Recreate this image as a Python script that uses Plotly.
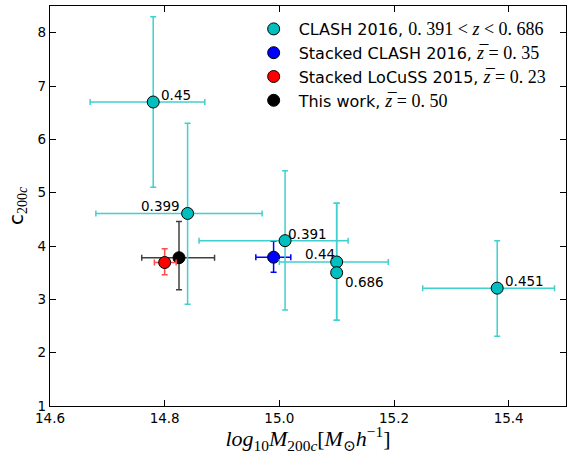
import plotly.graph_objects as go

# CLASH 2016 individual clusters
clash_x = [14.78, 14.84, 15.01, 15.10, 15.10, 15.38]
clash_y = [6.70, 4.61, 4.10, 3.70, 3.50, 3.21]
clash_xlo = [14.67, 14.68, 14.86, 15.00, 15.10, 15.25]
clash_xhi = [14.87, 14.97, 15.12, 15.19, 15.10, 15.48]
clash_ylo = [5.10, 2.91, 2.80, 2.61, 2.61, 2.31]
clash_yhi = [8.30, 6.30, 5.41, 4.80, 4.80, 4.10]
clash_z = ["0.45", "0.399", "0.391", "0.44", "0.686", "0.451"]
label_x = [14.79, 14.755, 15.012, 15.041, 15.111, 15.39]
label_y = [6.70, 4.61, 4.10, 3.72, 3.20, 3.22]

# Stacked CLASH 2016
sclash_x, sclash_y = [14.99], [3.79]
sclash_xlo, sclash_xhi = [14.959], [15.02]
sclash_ylo, sclash_yhi = [3.51], [4.09]

# Stacked LoCuSS 2015
loc_x, loc_y = [14.80], [3.69]
loc_xlo, loc_xhi = [14.782], [14.82]
loc_ylo, loc_yhi = [3.46], [3.95]

# This work
tw_x, tw_y = [14.825], [3.78]
tw_xlo, tw_xhi = [14.76], [14.887]
tw_ylo, tw_yhi = [3.18], [4.46]

x_ticks = [14.6, 14.8, 15.0, 15.2, 15.4]
y_ticks = [1, 2, 3, 4, 5, 6, 7, 8]

SERIF = "'Liberation Serif', 'DejaVu Serif', serif"


def m(s, size=18):
    return f"<span style=\"font-family:{SERIF};font-size:{size}px\">{s}</span>"


def errs(v, lo, hi):
    return ([h - a for a, h in zip(v, hi)], [a - l for a, l in zip(v, lo)])


def add(x, y, xlo, xhi, ylo, yhi, fill, ecol, name, rank):
    ep, em = errs(x, xlo, xhi)
    yp, ym = errs(y, ylo, yhi)
    fig.add_trace(go.Scatter(
        x=x, y=y, mode="markers", name=name, legendrank=rank,
        marker=dict(size=12, color=fill, line=dict(color="black", width=1)),
        error_x=dict(type="data", symmetric=False, array=ep, arrayminus=em,
                     color=ecol, thickness=1.5, width=3),
        error_y=dict(type="data", symmetric=False, array=yp, arrayminus=ym,
                     color=ecol, thickness=1.5, width=3),
    ))


fig = go.Figure()
zbar = "<i>z</i>\u0305"
add(tw_x, tw_y, tw_xlo, tw_xhi, tw_ylo, tw_yhi, "#000000", "#404040",
    "This work, " + m(zbar + " = 0. 50"), 4)
add(loc_x, loc_y, loc_xlo, loc_xhi, loc_ylo, loc_yhi, "#ff0000", "#ff4d4d",
    "Stacked LoCuSS 2015, " + m(zbar + " = 0. 23"), 3)
add(sclash_x, sclash_y, sclash_xlo, sclash_xhi, sclash_ylo, sclash_yhi, "#0000ff", "#0000ff",
    "Stacked CLASH 2016, " + m(zbar + " = 0. 35"), 2)
add(clash_x, clash_y, clash_xlo, clash_xhi, clash_ylo, clash_yhi, "#00bfbf", "#40d0d0",
    "CLASH 2016, " + m("0. 391 &lt; <i>z</i> &lt; 0. 686"), 1)

for lx, ly, t in zip(label_x, label_y, clash_z):
    fig.add_annotation(x=lx, y=ly, text=t, showarrow=False, xanchor="left",
                       yanchor="bottom", yshift=-3,
                       font=dict(family="DejaVu Sans", size=13.5, color="black"))

axis_common = dict(
    showgrid=False, zeroline=False, ticks="inside", ticklen=6, tickwidth=1,
    tickcolor="black", showline=True, linecolor="black", linewidth=1.2,
    mirror="allticks", tickfont=dict(family="DejaVu Sans", size=13.5, color="black"),
)

fig.update_layout(
    width=572, height=454,
    margin=dict(l=50, r=6, t=6, b=48),
    paper_bgcolor="white", plot_bgcolor="white",
    font=dict(family="DejaVu Sans", color="black"),
    xaxis=dict(range=[14.6, 15.5], tickvals=x_ticks,
               ticktext=[f"{v:.1f}" for v in x_ticks],
               title=dict(text="<i>log</i><sub>10</sub><i>M</i><sub>200<i>c</i></sub>[<i>M</i><sub>⊙</sub><i>h</i><sup>−1</sup>]",
                          font=dict(family=SERIF, size=22), standoff=4),
               **axis_common),
    yaxis=dict(range=[1, 8.5], tickvals=y_ticks,
               title=dict(text="c<span style=\"font-family:" + SERIF + "\"><sub><span style=\"font-size:14px\">200<i>c</i></span></sub></span>",
                          font=dict(family="DejaVu Sans", size=20), standoff=8),
               **axis_common),
    legend=dict(x=0.385, y=0.985, xanchor="left", yanchor="top",
                bgcolor="rgba(0,0,0,0)", borderwidth=0,
                font=dict(family="DejaVu Sans", size=16, color="black"),
                itemwidth=40, tracegroupgap=0),
    showlegend=True,
)

fig.write_html("out.html")
